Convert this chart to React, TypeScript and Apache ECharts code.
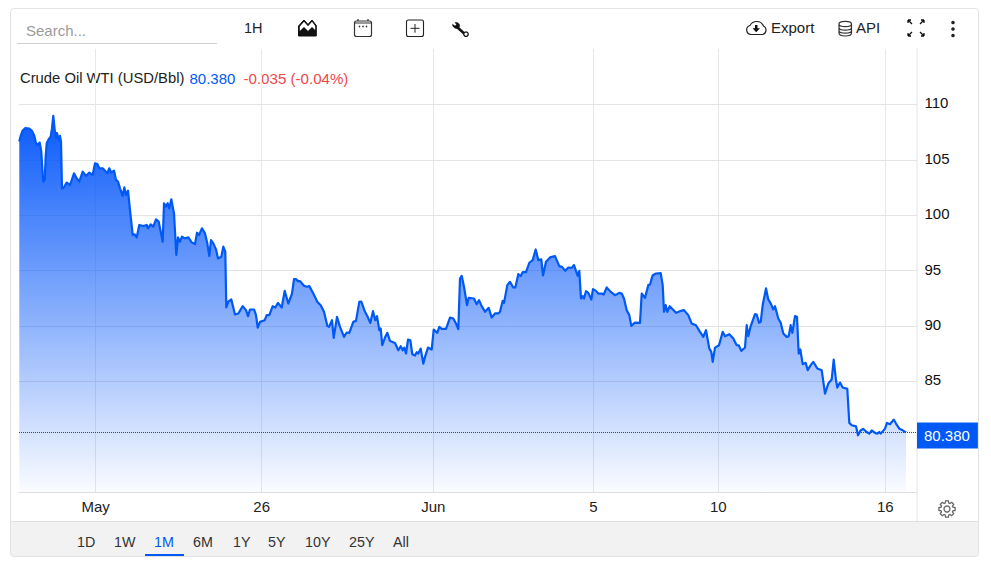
import React, { useEffect, useRef } from "react";
import * as echarts from "echarts";

const FONT = '"Liberation Sans", Arial, sans-serif';
const BLUE = "#0059f5";

// Sequential bar number along the time axis, and the price of that bar
const barIndex = [
  0.3, 1.7, 3.7, 6.3, 10.3, 13, 15.3, 17, 18.3, 20.7, 22.3, 23.7, 24.3, 25.7, 26.7, 27.7, 29.7, 31.7, 33, 34.3,
  35.7, 37, 38, 39.7, 41, 42, 43, 45, 47.7, 51, 55, 57.7, 60.3, 63.7, 67, 70.3, 73.7, 76, 78.3, 80.3,
  83.7, 88.3, 90.3, 92.3, 95, 97, 99, 101, 103.7, 105.3, 107, 109, 111.7, 113.7, 115.7, 117.7, 120.3, 124.3, 127.7, 129,
  131.7, 134.3, 137, 139.7, 143.7, 145, 146.7, 148.7, 150.3, 152.3, 155, 157.3, 159, 161, 163, 166, 169.3, 172.7, 176, 178,
  180, 183, 186, 188.3, 190.3, 192, 194.3, 197, 199, 202.3, 204.3, 206.3, 207.3, 209.3, 212.3, 216, 219.3, 223.7, 227, 229,
  231, 235, 237, 238.7, 241, 245.7, 247.7, 250.3, 253.7, 256.3, 259, 262.7, 265.7, 269.3, 273, 275, 277, 279, 281, 285,
  287.7, 290.3, 294.3, 298.3, 301.7, 305, 308.3, 310, 313, 314.7, 318, 321, 325, 327.7, 330.3, 334.3, 337, 340.3, 342.3, 346,
  349, 351.3, 354, 356.3, 358, 360.3, 361.7, 363.3, 366, 368.3, 371, 376, 379.3, 381.7, 383.7, 385.3, 387, 389, 391.3, 393.3,
  396, 397.7, 399.3, 401.7, 404.3, 406, 409, 412.7, 414.7, 418.3, 420.3, 422.7, 427, 431, 434.3, 437, 439.3, 441, 442.7, 445,
  448, 449.7, 455, 457.7, 460, 462.7, 466, 469.7, 472.7, 476, 479.3, 481, 483.7, 485, 488.3, 491, 494.3, 496.3, 499.3, 501.7,
  503.7, 507, 510.3, 513.7, 516.7, 519.3, 522.3, 524, 527, 531, 536, 540.3, 543, 546.3, 549.3, 552.7, 555, 558.7, 560.3, 562,
  563.7, 565, 567, 569.3, 572.3, 574, 577, 579.3, 582.7, 584.7, 587.7, 591.7, 596, 600.3, 602.7, 605, 607.7, 610.3, 612.3, 616,
  621, 622.7, 626, 629.3, 631, 633.7, 637, 641.7, 643.7, 645, 646.7, 648.3, 650.7, 657, 661, 665, 669.3, 672.7, 677, 681,
  684.3, 687, 690.3, 692.3, 693.7, 696, 700, 703.7, 706, 710.3, 714.3, 717.7, 719.7, 722.3, 726, 727.7, 729.3, 731.7, 736, 737.7,
  740, 741.7, 743.7, 747, 749.3, 751.7, 754.3, 756, 759.3, 761.7, 764.3, 767.7, 769.7, 771.7, 773.3, 776, 778, 779.7, 781.3, 783.7,
  786.7, 788.7, 791.7, 794.3, 798.3, 802.7, 806, 809.3, 812.7, 814.7, 817, 818.3, 821, 823.7, 828.3, 830.3, 832.7, 837, 839, 841.7,
  844.3, 847.7, 850.3, 852.7, 856, 858.3, 860.3, 861.7, 866, 868, 871, 874.7, 877, 880.3, 883.7, 887,
];
const prices = [
  106.64, 107.16, 107.64, 107.85, 107.82, 107.61, 107.16, 106.49, 106.34, 106.55, 105.74, 103.63, 103.03, 103.18, 105.29, 106.49, 106.85, 107.09, 107.85, 108.96,
  107.7, 106.94, 107.4, 106.85, 107.16, 106.64, 102.42, 102.51, 102.94, 102.72, 103.78, 103.33, 103.03, 103.93, 103.54, 103.84, 103.63, 104.68, 104.62, 104.23,
  104.23, 103.78, 104.23, 103.84, 104.02, 103.18, 103.03, 102.42, 101.73, 102.51, 101.82, 102.21, 99.86, 98.2, 98.26, 97.99, 99.11, 99.02, 99.11, 98.81,
  99.17, 98.96, 99.62, 99.41, 97.6, 101.07, 100.77, 101.07, 100.61, 101.43, 100.16, 96.4, 97.99, 97.6, 98.05, 97.9, 97.99, 97.54, 97.39, 98.41,
  98.2, 98.81, 98.35, 97.45, 96.31, 97.75, 97.45, 96.91, 96.09, 96.24, 97.15, 96.7, 91.66, 92.18, 92.39, 91.03, 91.12, 91.78, 91.42, 90.88,
  91.48, 91.48, 90.97, 89.85, 90.36, 90.51, 90.97, 90.97, 91.78, 91.66, 92.08, 91.66, 93.16, 92.02, 92.92, 94.22, 94.22, 94.04, 94.04, 93.62,
  93.53, 93.59, 92.92, 92.17, 91.87, 91.27, 90.0, 89.91, 90.51, 88.92, 90.81, 89.91, 89.0, 89.4, 89.37, 90.36, 90.45, 92.17, 92.2, 91.27,
  90.75, 90.27, 91.33, 90.51, 90.87, 89.61, 89.76, 88.25, 88.95, 89.37, 88.64, 88.46, 87.8, 88.16, 87.8, 88.04, 87.5, 88.76, 88.7, 87.44,
  87.32, 87.62, 87.5, 87.95, 86.59, 87.2, 88.04, 87.86, 89.67, 89.37, 89.91, 89.73, 89.73, 90.75, 90.66, 90.21, 89.7, 94.28, 94.52, 93.53,
  91.87, 92.53, 92.47, 91.96, 92.32, 91.78, 91.27, 91.63, 90.75, 91.12, 91.12, 91.27, 92.26, 92.08, 93.68, 93.98, 93.47, 93.47, 94.67, 94.49,
  94.85, 94.85, 95.7, 95.94, 96.9, 95.94, 96.0, 94.55, 95.79, 96.18, 96.3, 95.39, 95.33, 94.97, 95.27, 95.24, 95.49, 94.52, 94.97, 92.47,
  92.68, 92.47, 93.13, 92.98, 92.38, 93.32, 93.16, 92.92, 92.92, 92.83, 93.47, 93.07, 92.77, 92.98, 92.92, 92.47, 91.42, 90.97, 90.0, 90.3,
  90.27, 92.92, 92.53, 93.68, 93.74, 94.58, 94.73, 94.76, 93.68, 91.27, 91.87, 91.27, 91.78, 91.18, 91.33, 91.42, 90.97, 90.21, 90.06, 89.46,
  89.01, 89.61, 87.95, 87.65, 86.75, 88.04, 88.25, 89.46, 89.07, 89.25, 88.85, 88.25, 88.25, 87.74, 88.05, 90.07, 89.07, 89.98, 91.06, 91.03,
  90.28, 90.37, 91.88, 93.38, 92.39, 92.03, 91.48, 91.78, 90.67, 90.28, 89.31, 89.01, 89.07, 90.07, 89.37, 90.88, 90.82, 87.5, 87.87, 86.54,
  86.66, 86.0, 86.45, 86.75, 86.15, 86.0, 83.89, 84.79, 85.15, 86.96, 85.09, 84.43, 84.88, 84.43, 84.31, 81.24, 81.03, 80.93, 80.12, 80.57,
  80.69, 80.42, 80.27, 80.57, 80.33, 80.27, 80.42, 80.27, 80.72, 81.24, 81.12, 81.54, 81.18, 80.72, 80.57, 80.38,
];

const dateTickBars = [76.7, 242.7, 414.3, 574.3, 699.3, 866.3];
const dateTickLabels = ["May", "26", "Jun", "5", "10", "16"];
const priceTicks = [85, 90, 95, 100, 105, 110];
const lastPrice = 80.38;
const rangeTabs: [string, number][] = [
  ["1D", 77], ["1W", 114], ["1M", 154], ["6M", 193], ["1Y", 233], ["5Y", 268], ["10Y", 305], ["25Y", 349], ["All", 393],
];

const ICONS: Record<string, string> = {
  iconCal: "M354.5 23 H371.5 V34.5 A2 2 0 0 1 369.5 36.5 H356.5 A2 2 0 0 1 354.5 34.5 Z M354.5 23 A2 2 0 0 1 356.5 21 H369.5 A2 2 0 0 1 371.5 23 M358 19 V21 M368 19 V21",
  iconWrenchHead: "M452.5 24.2 L455 26 L456.6 24.6 L455 22.6 C457.6 21.8 460.2 24 459.6 26.6 L458 28.4 C455.2 29 452.4 27 452.5 24.2 Z",
  iconCloud: "M751 34.5 H762 A4.5 4.5 0 0 0 763.5 26 A7.5 7.5 0 0 0 750 25.5 A4.6 4.6 0 0 0 751 34.5 Z",
  iconDb: "M839 24 C839 20.5 851.5 20.5 851.5 24 C851.5 27.5 839 27.5 839 24 V33 C839 37 851.5 37 851.5 33 V24 M839 27.5 C839 31 851.5 31 851.5 27.5 M839 30.5 C839 34 851.5 34 851.5 30.5",
  iconFull: "M908 20 L912 24 M908 20 H911 M908 20 V23 M924 20 L920 24 M924 20 H921 M924 20 V23 M908 36 L912 32 M908 36 H911 M908 36 V33 M924 36 L920 32 M924 36 H921 M924 36 V33",
  iconArea: "M298.5 26 L304 20 L308 24.5 L312 20 L316.3 25.5 V36 H298.5 Z",
};
for (const name of Object.keys(ICONS)) {
  echarts.graphic.registerShape(name, echarts.graphic.extendPath(ICONS[name], {}));
}

const txt = (text: string, x: number, y: number, fill = "#222", size = 15, align = "left") => ({
  type: "text",
  silent: true,
  style: { text, x, y, fill, font: `${size}px ${FONT}`, align, verticalAlign: "middle" },
});
const ln = (x1: number, y1: number, x2: number, y2: number, stroke: string, lineWidth = 1) => ({
  type: "line",
  silent: true,
  shape: { x1, y1, x2, y2 },
  style: { stroke, lineWidth },
});
const ic = (type: string, stroke: string, lineWidth = 1.2, fill = "none") => ({
  type,
  silent: true,
  x: 0,
  y: 0,
  style: { stroke, lineWidth, fill },
});

const gearPoints = () => {
  const pts: number[][] = [];
  const cx = 947, cy = 509;
  for (let i = 0; i < 8; i++) {
    const a = (i * Math.PI) / 4;
    for (const [d, r] of [[-0.3, 6.2], [-0.17, 8.2], [0.17, 8.2], [0.3, 6.2]] as number[][]) {
      pts.push([cx + r * Math.cos(a + d), cy + r * Math.sin(a + d)]);
    }
  }
  return pts;
};

export default function App() {
  const ref = useRef<HTMLDivElement>(null);
  useEffect(() => {
    const chart = echarts.init(ref.current!, null, { renderer: "svg" });
    const option: any = {
      animation: false,
      backgroundColor: "#fff",
      textStyle: { fontFamily: FONT },
      grid: { left: 19, top: 49, width: 898, height: 443, containLabel: false },
      xAxis: {
        type: "value",
        min: 0,
        max: 898,
        axisLine: { show: true, lineStyle: { color: "#dedede" } },
        axisTick: { show: false, customValues: dateTickBars },
        axisLabel: {
          customValues: dateTickBars,
          color: "#222",
          fontSize: 15,
          margin: 7,
          fontFamily: FONT,
          formatter: (v: number) => dateTickLabels[dateTickBars.indexOf(v)] ?? "",
        },
        splitLine: { show: true, lineStyle: { color: "#e8e8e8" } },
      },
      yAxis: {
        type: "value",
        position: "right",
        min: 75,
        max: 115,
        axisLine: { show: false },
        axisTick: { show: false, customValues: priceTicks },
        axisLabel: {
          customValues: priceTicks,
          color: "#111",
          fontSize: 15,
          margin: 7.5,
          fontFamily: FONT,
          verticalAlign: "bottom",
          lineHeight: 3,
        },
        splitLine: { show: true, lineStyle: { color: "#e3e3e3" } },
      },
      series: [
        {
          type: "line",
          data: barIndex.map((b, i) => [b, prices[i]]),
          symbol: "none",
          smooth: false,
          clip: false,
          lineStyle: { color: BLUE, width: 2.2, join: "round" },
          areaStyle: {
            origin: "start",
            opacity: 1,
            color: new echarts.graphic.LinearGradient(0, 0, 0, 1, [
              { offset: 0, color: "rgba(10,90,250,1)" },
              { offset: 1, color: "rgba(10,90,250,0.02)" },
            ]),
          },
          markLine: {
            silent: true,
            symbol: "none",
            animation: false,
            lineStyle: { color: "#1d4f9e", type: [1, 1], width: 1 },
            label: {
              position: "end",
              distance: 0,
              offset: [0, 3],
              formatter: () => lastPrice.toFixed(3),
              color: "#fff",
              fontSize: 15,
              fontFamily: FONT,
              backgroundColor: "#0059f5",
              padding: [6, 8, 5, 7],
            },
            data: [{ yAxis: lastPrice }],
          },
        },
      ],
      graphic: {
        elements: [
          { type: "rect", silent: true, z: -1, shape: { x: 11, y: 521, width: 967, height: 35 }, style: { fill: "#f2f2f2" } },
          ln(11, 521.5, 978, 521.5, "#dfdfdf"),
          ln(917, 48, 917, 521, "#e3e3e3"),
          { type: "rect", silent: true, shape: { x: 10.5, y: 8.5, width: 968, height: 548, r: 3 }, style: { fill: "none", stroke: "#e2e2e2" } },
          // search
          txt("Search...", 26, 30, "#9a9a9a"),
          ln(17, 43.5, 217, 43.5, "#cfcfcf"),
          // toolbar
          txt("1H", 244, 27.5, "#222", 14.5),
          ic("iconArea", "#111", 1, "#111"),
          { type: "polygon", silent: true, shape: { points: [[299.8, 26.5], [304, 21.8], [308, 26.2], [312, 21.8], [315.2, 25.9], [315.2, 30], [312, 27], [308, 31], [304, 27], [299.8, 31]] }, style: { fill: "#fff" } },
          ic("iconCal", "#333"),
          ...[359.5, 363, 366.5].map((x) => ({ type: "circle", silent: true, shape: { cx: x, cy: 26.5, r: 0.8 }, style: { fill: "#333" } })),
          { type: "rect", silent: true, shape: { x: 406.5, y: 20, width: 17, height: 16.5, r: 2 }, style: { fill: "none", stroke: "#222", lineWidth: 1.1 } },
          ln(410.5, 28.3, 419.5, 28.3, "#222"),
          ln(415, 24, 415, 32.7, "#222"),
          ic("iconWrenchHead", "#111", 0.5, "#111"),
          ln(457, 27, 465, 34.3, "#111", 2.6),
          { type: "circle", silent: true, shape: { cx: 466, cy: 34.2, r: 2.2 }, style: { fill: "#fff", stroke: "#111", lineWidth: 1.3 } },
          ic("iconCloud", "#222"),
          { type: "polygon", silent: true, shape: { points: [[755, 25], [757.5, 25], [757.5, 28.3], [760, 28.3], [756.2, 32.3], [752.5, 28.3], [755, 28.3]] }, style: { fill: "#111" } },
          txt("Export", 771, 27, "#222"),
          ic("iconDb", "#333"),
          txt("API", 856, 27, "#222"),
          ic("iconFull", "#111", 1.3),
          ...[22.5, 29, 35.5].map((y) => ({ type: "circle", silent: true, shape: { cx: 953, cy: y, r: 1.8 }, style: { fill: "#222" } })),
          // legend line
          txt("Crude Oil WTI (USD/Bbl)", 20, 78, "#222", 14.8),
          txt(lastPrice.toFixed(3), 189.5, 78, "#0059f5", 15),
          txt("-0.035 (-0.04%)", 243.5, 78, "#f04848", 15.1),
          // gear
          { type: "polygon", silent: true, shape: { points: gearPoints() }, style: { fill: "none", stroke: "#666", lineWidth: 1.3 } },
          { type: "circle", silent: true, shape: { cx: 947, cy: 509, r: 3 }, style: { fill: "none", stroke: "#666", lineWidth: 1.3 } },
          // range tabs
          ...rangeTabs.map(([label, x]) => txt(label, x, 542, label === "1M" ? "#0059f5" : "#333", 14.3)),
          { type: "rect", silent: true, shape: { x: 145, y: 554, width: 39, height: 2 }, style: { fill: "#0059f5" } },
        ],
      },
    };
    chart.setOption(option);
    return () => chart.dispose();
  }, []);
  return <div ref={ref} style={{ position: "fixed", left: 0, top: 0, width: 991, height: 571 }} />;
}
